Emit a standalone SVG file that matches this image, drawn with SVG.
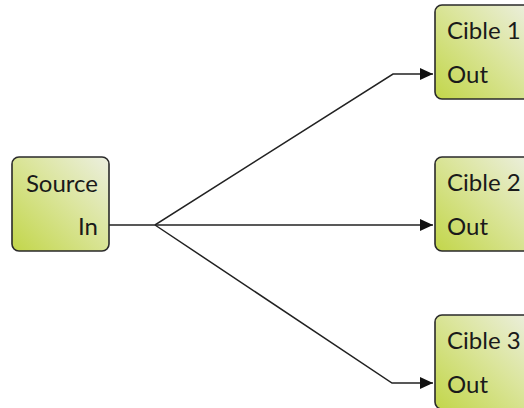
<svg xmlns="http://www.w3.org/2000/svg" width="524" height="408" viewBox="0 0 524 408">
<defs>
<linearGradient id="g" x1="0" y1="1" x2="1" y2="0">
<stop offset="0" stop-color="#c2d64a"/>
<stop offset="0.55" stop-color="#dbe59c"/>
<stop offset="1" stop-color="#ecefe0"/>
</linearGradient>
<marker id="arr" viewBox="0 0 13 12" refX="13" refY="6" markerWidth="13" markerHeight="12" markerUnits="userSpaceOnUse" orient="auto">
<path d="M0,0 L13,6 L0,12 Z" fill="#111"/>
</marker>
<style>
.box{fill:url(#g);stroke:#2a2a2a;stroke-width:1.6}
.t{font-family:Lato,"Open Sans",sans-serif;font-size:24px;fill:#1a1a1a}
.c{fill:none;stroke:#222;stroke-width:1.5}
</style>
</defs>
<rect width="524" height="408" fill="#fff"/>
<g id="connectors">
<polyline class="c" points="109,225 155,225 393,74 433,74" marker-end="url(#arr)"/>
<polyline class="c" points="155,225 433,225" marker-end="url(#arr)"/>
<polyline class="c" points="155,225 392,383 433,383" marker-end="url(#arr)"/>
</g>
<g id="source">
<rect class="box" x="12" y="157" width="97" height="94" rx="7"/>
<text class="t" x="98" y="192" text-anchor="end">Source</text>
<text class="t" x="98" y="235" text-anchor="end">In</text>
</g>
<g id="cible1">
<rect class="box" x="435" y="5" width="97" height="94" rx="7"/>
<text class="t" x="447" y="39">Cible 1</text>
<text class="t" x="447" y="83">Out</text>
</g>
<g id="cible2">
<rect class="box" x="435" y="157" width="97" height="94" rx="7"/>
<text class="t" x="447" y="191">Cible 2</text>
<text class="t" x="447" y="235">Out</text>
</g>
<g id="cible3">
<rect class="box" x="435" y="315" width="97" height="94" rx="7"/>
<text class="t" x="447" y="349">Cible 3</text>
<text class="t" x="447" y="393">Out</text>
</g>
</svg>
